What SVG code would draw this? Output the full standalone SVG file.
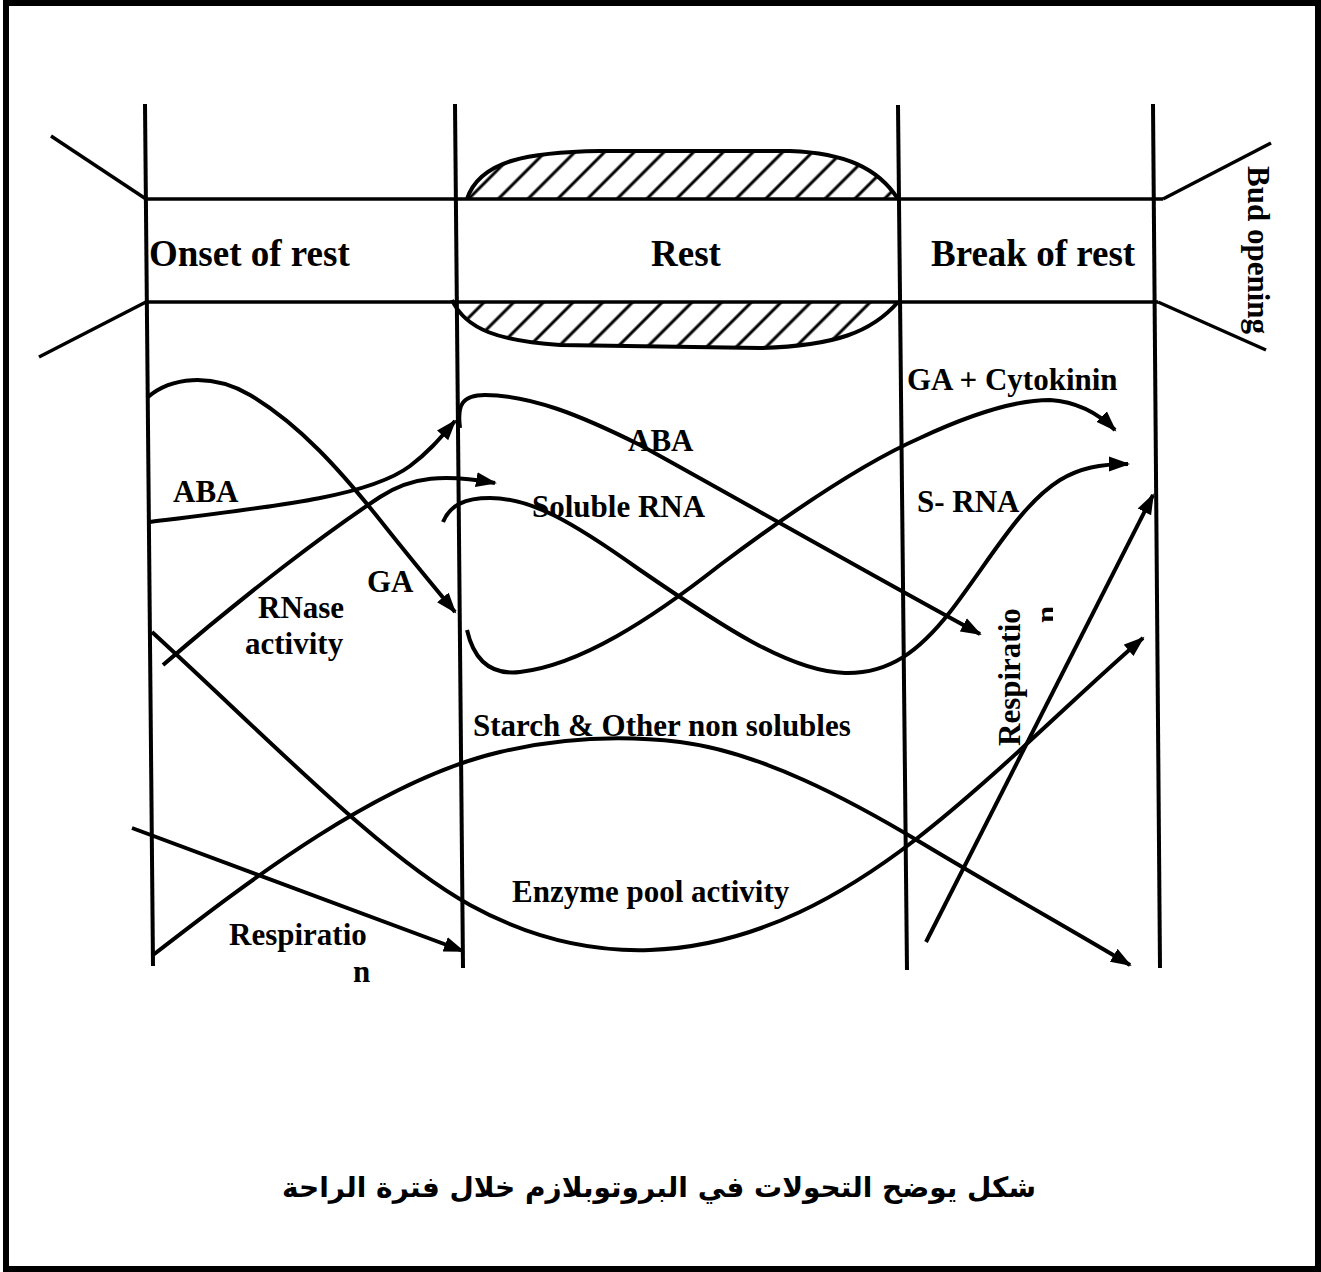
<svg xmlns="http://www.w3.org/2000/svg" width="1321" height="1272" viewBox="0 0 1321 1272">
<style>
.ln{fill:none;stroke:#000;stroke-width:4;stroke-linecap:butt;stroke-linejoin:round}
.vl{fill:none;stroke:#000;stroke-width:4}
.hl{fill:none;stroke:#000;stroke-width:3.5}
.hd{font-family:"Liberation Serif","Times New Roman",serif;font-weight:bold;font-size:37px;fill:#000}
.lb{font-family:"Liberation Serif","Times New Roman",serif;font-weight:bold;font-size:31px;fill:#000}
.ar{font-family:"DejaVu Sans",sans-serif;font-weight:bold;font-size:28px;fill:#000}
.arw{marker-end:url(#ah)}
</style>
<defs>
<marker id="ah" markerUnits="userSpaceOnUse" markerWidth="22" markerHeight="16" refX="19" refY="8" orient="auto">
<path d="M0,0.5 L21,8 L0,15.5 Z" fill="#000"/>
</marker>
<pattern id="hatch" patternUnits="userSpaceOnUse" width="21" height="21" patternTransform="rotate(45)">
<line x1="10" y1="0" x2="10" y2="21" stroke="#000" stroke-width="3"/>
</pattern>
<clipPath id="nclip"><rect x="1030" y="590" width="23" height="50"/></clipPath>
</defs>
<rect x="0" y="0" width="1321" height="1272" fill="#fff"/>
<rect id="frame" x="6" y="3" width="1312" height="1266" fill="none" stroke="#000" stroke-width="6"/>

<g id="rest-hatch">
<path d="M467,199 C480,160 530,152 600,151 L790,151 C845,153 878,168 898,199 Z" fill="url(#hatch)" stroke="none"/>
<path d="M467,199 C480,160 530,152 600,151 L790,151 C845,153 878,168 898,199" class="ln"/>
<path d="M454,302 C466,330 500,341 560,345 L760,348 C835,346 872,332 898,302 Z" fill="url(#hatch)" stroke="none"/>
<path d="M452,300 C466,330 500,341 560,345 L760,348 C835,346 872,332 898,302" class="ln"/>
</g>

<g id="frame-lines">
<line class="vl" x1="145" y1="104" x2="153" y2="966"/>
<line class="vl" x1="455" y1="104" x2="463" y2="968"/>
<line class="vl" x1="898" y1="105" x2="907" y2="970"/>
<line class="vl" x1="1153" y1="104" x2="1160" y2="968"/>
<line class="hl" x1="145" y1="199" x2="1163" y2="199"/>
<line class="hl" x1="146" y1="302" x2="1158" y2="302"/>
<line class="hl" x1="51" y1="136" x2="146" y2="199"/>
<line class="hl" x1="146" y1="302" x2="39" y2="357"/>
<line class="hl" x1="1163" y1="199" x2="1271" y2="143"/>
<line class="hl" x1="1158" y1="302" x2="1266" y2="350"/>
</g>

<g id="stage-onset"><text class="hd" x="149" y="266">Onset of rest</text></g>
<g id="stage-rest"><text class="hd" x="686" y="266" text-anchor="middle">Rest</text></g>
<g id="stage-break"><text class="hd" x="931" y="266">Break of rest</text></g>
<g id="stage-bud"><text class="lb" transform="translate(1248,166) rotate(90)">Bud opening</text></g>

<g id="connectors">
<path class="ln arw" d="M150,522 C280,506 370,496 410,466 C430,451 442,436 455,421"/>
<path class="ln arw" d="M148,397 C170,378 210,372 250,395 C300,425 340,470 380,520 C410,558 435,588 455,612"/>
<path class="ln arw" d="M163,665 C250,590 330,530 380,497 C412,476 445,474 495,483"/>
<path class="ln arw" d="M152,632 C270,740 380,855 470,905 C530,938 590,952 650,950 C760,946 850,890 915,840 C995,778 1080,692 1143,638"/>
<path class="ln arw" d="M153,955 C250,880 380,780 500,752 C560,738 620,735 680,742 C760,752 850,800 920,842 C1000,890 1080,935 1130,965"/>
<path class="ln arw" d="M132,828 L463,951"/>
<path class="ln arw" d="M460,428 C457,405 462,395 485,395 C530,395 580,415 640,445 C740,500 880,580 980,634"/>
<path class="ln arw" d="M443,522 C450,505 465,498 490,498 C530,498 570,520 640,570 C720,625 790,672 845,673 C890,674 920,650 950,612 C990,560 1020,505 1060,480 C1080,468 1100,464 1128,464"/>
<path class="ln arw" d="M467,630 C475,665 495,675 520,672 C580,665 650,620 720,565 C800,505 870,460 920,438 C980,410 1020,400 1050,400 C1080,402 1100,415 1115,430"/>
<path class="ln arw" d="M926,942 L1153,495"/>
</g>

<g id="labels">
<text class="lb" x="173" y="502">ABA</text>
<text class="lb" x="628" y="451">ABA</text>
<text class="lb" x="367" y="592">GA</text>
<text class="lb" x="258" y="618">RNase</text>
<text class="lb" x="245" y="654">activity</text>
<text class="lb" x="532" y="517">Soluble RNA</text>
<text class="lb" x="907" y="390">GA + Cytokinin</text>
<text class="lb" x="917" y="512">S- RNA</text>
<text class="lb" x="473" y="736">Starch &amp; Other non solubles</text>
<text class="lb" x="512" y="902">Enzyme pool activity</text>
<text class="lb" x="229" y="945">Respiratio</text>
<text class="lb" x="353" y="982">n</text>
<text class="lb" transform="translate(1020,746) rotate(-90)">Respiratio</text>
<g clip-path="url(#nclip)"><text class="lb" transform="translate(1057,623) rotate(-90)">n</text></g>
</g>

<g id="caption"><text class="ar" x="659" y="1197" text-anchor="middle" direction="rtl">شكل يوضح التحولات في البروتوبلازم خلال فترة الراحة</text></g>
</svg>
